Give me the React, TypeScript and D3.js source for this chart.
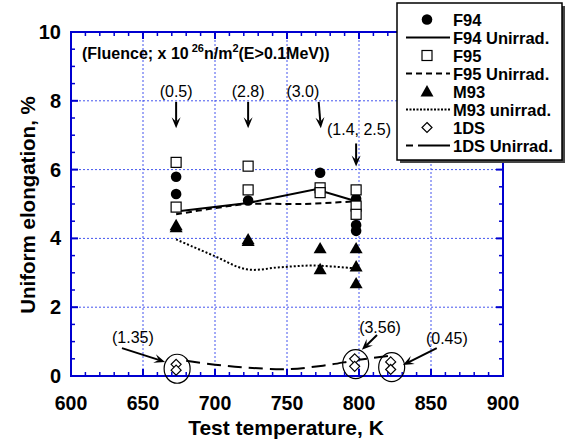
import React from "react";
import * as d3 from "d3";

// ---- Data ----
const f94Temps = [673, 673, 723, 773, 798, 798, 798];
const f94Values = [5.79, 5.29, 5.1, 5.91, 5.15, 4.39, 4.22];

const f95Temps = [673, 673, 723, 723, 773, 773, 798, 798, 798];
const f95Values = [6.21, 4.91, 6.1, 5.41, 5.47, 5.33, 5.41, 4.94, 4.7];

const m93Temps = [673, 673, 723, 723, 773, 773, 798, 798, 798];
const m93Values = [4.38, 4.32, 3.97, 3.92, 3.71, 3.1, 3.71, 3.18, 2.69];

const ds1Temps = [673, 673, 797, 797, 822, 822];
const ds1Values = [0.34, 0.17, 0.5, 0.28, 0.41, 0.19];

const f94UnirradT = [673, 723, 770, 798];
const f94UnirradV = [4.78, 5.03, 5.43, 5.08];

const f95UnirradT = [673, 700, 723, 760, 798];
const f95UnirradV = [4.7, 4.88, 5.0, 5.0, 5.08];

const m93UnirradT = [673, 699, 722, 745, 768, 797];
const m93UnirradV = [3.97, 3.5, 3.1, 3.16, 3.21, 3.13];

const ds1UnirradT = [680, 700, 720, 750, 775, 800, 823];
const ds1UnirradV = [0.44, 0.33, 0.25, 0.2, 0.3, 0.47, 0.6];

const xTicks = [600, 650, 700, 750, 800, 850, 900];
const yTicks = [0, 2, 4, 6, 8, 10];

// Fluence annotations: label, text pos (t,v), arrow from (t,v) to (t,v)
const fluenceNotes = [
  { label: "(0.5)", tx: 673, ty: 8.26, ax1: 673, ay1: 7.97, ax2: 673, ay2: 7.2 },
  { label: "(2.8)", tx: 723, ty: 8.26, ax1: 723, ay1: 7.97, ax2: 723, ay2: 7.2 },
  { label: "(3.0)", tx: 761, ty: 8.26, ax1: 772, ay1: 7.97, ax2: 773.5, ay2: 7.2 },
  { label: "(1.4, 2.5)", tx: 800, ty: 7.18, ax1: 798, ay1: 6.76, ax2: 798, ay2: 6.09 },
  { label: "(1.35)", tx: 643, ty: 1.13, ax1: 635.4, ay1: 0.81, ax2: 665.3, ay2: 0.41 },
  { label: "(3.56)", tx: 814.6, ty: 1.4, ax1: 812.5, ay1: 1.19, ax2: 802, ay2: 0.76 },
  { label: "(0.45)", tx: 861, ty: 1.08, ax1: 854, ay1: 0.81, ax2: 830.5, ay2: 0.32 },
];

const legendItems = [
  { label: "F94", kind: "circle" },
  { label: "F94 Unirrad.", kind: "solid" },
  { label: "F95", kind: "square" },
  { label: "F95 Unirrad.", kind: "dashed" },
  { label: "M93", kind: "triangle" },
  { label: "M93 unirrad.", kind: "dotted" },
  { label: "1DS", kind: "diamond" },
  { label: "1DS Unirrad.", kind: "dashlong" },
];

const W = 566;
const H = 442;
const L = 71, R = 503, T = 32, B = 376;
const AXIS = "#0000d0";
const FONT = "'Liberation Sans', Arial, sans-serif";

const x = d3.scaleLinear().domain([600, 900]).range([L, R]);
const y = d3.scaleLinear().domain([0, 10]).range([B, T]);

const lineGen = (ts: number[], vs: number[], curve: any = d3.curveCatmullRom) =>
  d3
    .line<number>()
    .x((_, i) => x(ts[i]))
    .y((_, i) => y(vs[i]))
    .curve(curve)(ts.map((_, i) => i)) || "";

function Arrow({ x1, y1, x2, y2 }: { x1: number; y1: number; x2: number; y2: number }) {
  const ang = Math.atan2(y2 - y1, x2 - x1);
  const len = 11, w = 4.5;
  const bx = x2 - len * Math.cos(ang), by = y2 - len * Math.sin(ang);
  const nx = -Math.sin(ang), ny = Math.cos(ang);
  const mx = x2 - len * 0.6 * Math.cos(ang), my = y2 - len * 0.6 * Math.sin(ang);
  const pts = [
    [x2, y2],
    [bx + nx * w, by + ny * w],
    [mx, my],
    [bx - nx * w, by - ny * w],
  ];
  return (
    <g>
      <line x1={x1} y1={y1} x2={mx} y2={my} stroke="#000" strokeWidth={2} />
      <polygon points={pts.map((p) => p.join(",")).join(" ")} fill="#000" />
    </g>
  );
}

const triPath = (cx: number, cy: number, s = 6.5) =>
  `M${cx},${cy - s}L${cx + s},${cy + s * 0.75}L${cx - s},${cy + s * 0.75}Z`;
const diaPath = (cx: number, cy: number, s = 5) =>
  `M${cx},${cy - s}L${cx + s},${cy}L${cx},${cy + s}L${cx - s},${cy}Z`;

export default function App() {
  const xMinor = d3.range(600, 901, 10);
  const yMinor = d3.range(0, 10.01, 0.5);

  const groups = [0, 2, 4].map((i) => ({
    cx: (x(ds1Temps[i]) + x(ds1Temps[i + 1])) / 2 + 1,
    cy: (y(ds1Values[i]) + y(ds1Values[i + 1])) / 2 + 1.5,
  }));

  const legX = 397, legY = 3, legW = 165, legH = 157;

  return (
    <svg
      width={W}
      height={H}
      style={{ position: "absolute", left: 0, top: 0, background: "#fff" }}
      fontFamily={FONT}
    >
      {/* grid */}
      {xTicks.slice(1, -1).map((t) => (
        <line key={"gx" + t} x1={x(t)} x2={x(t)} y1={T} y2={B} stroke="#4455ee" strokeWidth={1} strokeDasharray="2,2" />
      ))}
      {yTicks.slice(1, -1).map((v) => (
        <line key={"gy" + v} x1={L} x2={R} y1={y(v)} y2={y(v)} stroke="#4455ee" strokeWidth={1} strokeDasharray="2,2" />
      ))}

      {/* ticks */}
      {xMinor.map((t) => {
        const major = t % 50 === 0;
        const len = major ? 7 : 4;
        return (
          <g key={"tx" + t}>
            <line x1={x(t)} x2={x(t)} y1={B} y2={B - len} stroke={AXIS} strokeWidth={major ? 2 : 1.5} />
            <line x1={x(t)} x2={x(t)} y1={T} y2={T + len} stroke={AXIS} strokeWidth={major ? 2 : 1.5} />
          </g>
        );
      })}
      {yMinor.map((v) => {
        const major = Math.abs(v % 2) < 1e-6;
        const len = major ? 7 : 4;
        return (
          <g key={"ty" + v}>
            <line x1={L} x2={L + len} y1={y(v)} y2={y(v)} stroke={AXIS} strokeWidth={major ? 2 : 1.5} />
            <line x1={R} x2={R - len} y1={y(v)} y2={y(v)} stroke={AXIS} strokeWidth={major ? 2 : 1.5} />
          </g>
        );
      })}
      <rect x={L} y={T} width={R - L} height={B - T} fill="none" stroke={AXIS} strokeWidth={2} />

      {/* tick labels */}
      {xTicks.map((t) => (
        <text key={"lx" + t} x={x(t)} y={410} textAnchor="middle" fontSize={19.5} fontWeight="bold">
          {t}
        </text>
      ))}
      {yTicks.map((v) => (
        <text key={"ly" + v} x={61} y={y(v) + 7} textAnchor="end" fontSize={20} fontWeight="bold">
          {v}
        </text>
      ))}
      <text x={286} y={435} textAnchor="middle" fontSize={21} fontWeight="bold">
        Test temperature, K
      </text>
      <text transform={`translate(35,205) rotate(-90)`} textAnchor="middle" fontSize={20.5} fontWeight="bold">
        Uniform elongation, %
      </text>

      {/* fluence header */}
      <text x={82} y={59} fontSize={16} fontWeight="bold">
        (Fluence; x 10
        <tspan dx={3} dy={-7} fontSize={11}>26</tspan>
        <tspan dy={7}>n/m</tspan>
        <tspan dy={-7} fontSize={11}>2</tspan>
        <tspan dy={7}>(E&gt;0.1MeV))</tspan>
      </text>

      {/* unirradiated curves */}
      <path d={lineGen(m93UnirradT, m93UnirradV)} fill="none" stroke="#000" strokeWidth={2} strokeDasharray="2,2" />
      <path d={lineGen(f95UnirradT, f95UnirradV)} fill="none" stroke="#000" strokeWidth={2} strokeDasharray="6,4" />
      <path d={lineGen(f94UnirradT, f94UnirradV, d3.curveLinear)} fill="none" stroke="#000" strokeWidth={2} />
      <path d={lineGen(ds1UnirradT, ds1UnirradV)} fill="none" stroke="#000" strokeWidth={2} strokeDasharray="14,7" />

      {/* markers */}
      {m93Temps.map((t, i) => (
        <path key={"m" + i} d={triPath(x(t), y(m93Values[i]))} fill="#000" />
      ))}
      {f94Temps.map((t, i) => (
        <circle key={"c" + i} cx={x(t)} cy={y(f94Values[i])} r={5.3} fill="#000" />
      ))}
      {f95Temps.map((t, i) => (
        <rect key={"s" + i} x={x(t) - 5} y={y(f95Values[i]) - 5} width={10} height={10} fill="#fff" stroke="#000" strokeWidth={1.2} />
      ))}
      {ds1Temps.map((t, i) => (
        <path key={"d" + i} d={diaPath(x(t), y(ds1Values[i]))} fill="#fff" stroke="#000" strokeWidth={1.2} />
      ))}
      {groups.map((g, i) => (
        <ellipse key={"e" + i} cx={g.cx} cy={g.cy} rx={13} ry={14.5} fill="none" stroke="#000" strokeWidth={1.2} />
      ))}

      {/* fluence annotations */}
      {fluenceNotes.map((n, i) => (
        <g key={"n" + i}>
          <text x={x(n.tx)} y={y(n.ty) + 5.5} textAnchor="middle" fontSize={16}>
            {n.label}
          </text>
          <Arrow x1={x(n.ax1)} y1={y(n.ay1)} x2={x(n.ax2)} y2={y(n.ay2)} />
        </g>
      ))}

      {/* legend */}
      <rect x={legX + 3} y={legY + 3} width={legW} height={legH} fill="#444" />
      <rect x={legX} y={legY} width={legW} height={legH} fill="#fff" stroke="#000" strokeWidth={1.5} />
      {legendItems.map((it, i) => {
        const cy = legY + 16.5 + i * 18;
        const sx = 427;
        let sym: React.ReactNode = null;
        if (it.kind === "circle") sym = <circle cx={sx} cy={cy} r={5.3} fill="#000" />;
        else if (it.kind === "square")
          sym = <rect x={sx - 5} y={cy - 5} width={10} height={10} fill="#fff" stroke="#000" strokeWidth={1.2} />;
        else if (it.kind === "triangle") sym = <path d={triPath(sx, cy)} fill="#000" />;
        else if (it.kind === "diamond") sym = <path d={diaPath(sx, cy)} fill="#fff" stroke="#000" strokeWidth={1.2} />;
        else {
          const dash =
            it.kind === "dashed" ? "6,4" : it.kind === "dotted" ? "2,1.5" : it.kind === "dashlong" ? "7,5,30,0" : undefined;
          sym = <line x1={406} x2={450} y1={cy} y2={cy} stroke="#000" strokeWidth={2} strokeDasharray={dash} />;
        }
        return (
          <g key={"lg" + i}>
            {sym}
            <text x={453} y={cy + 6} fontSize={16.5} fontWeight="bold">
              {it.label}
            </text>
          </g>
        );
      })}
    </svg>
  );
}
